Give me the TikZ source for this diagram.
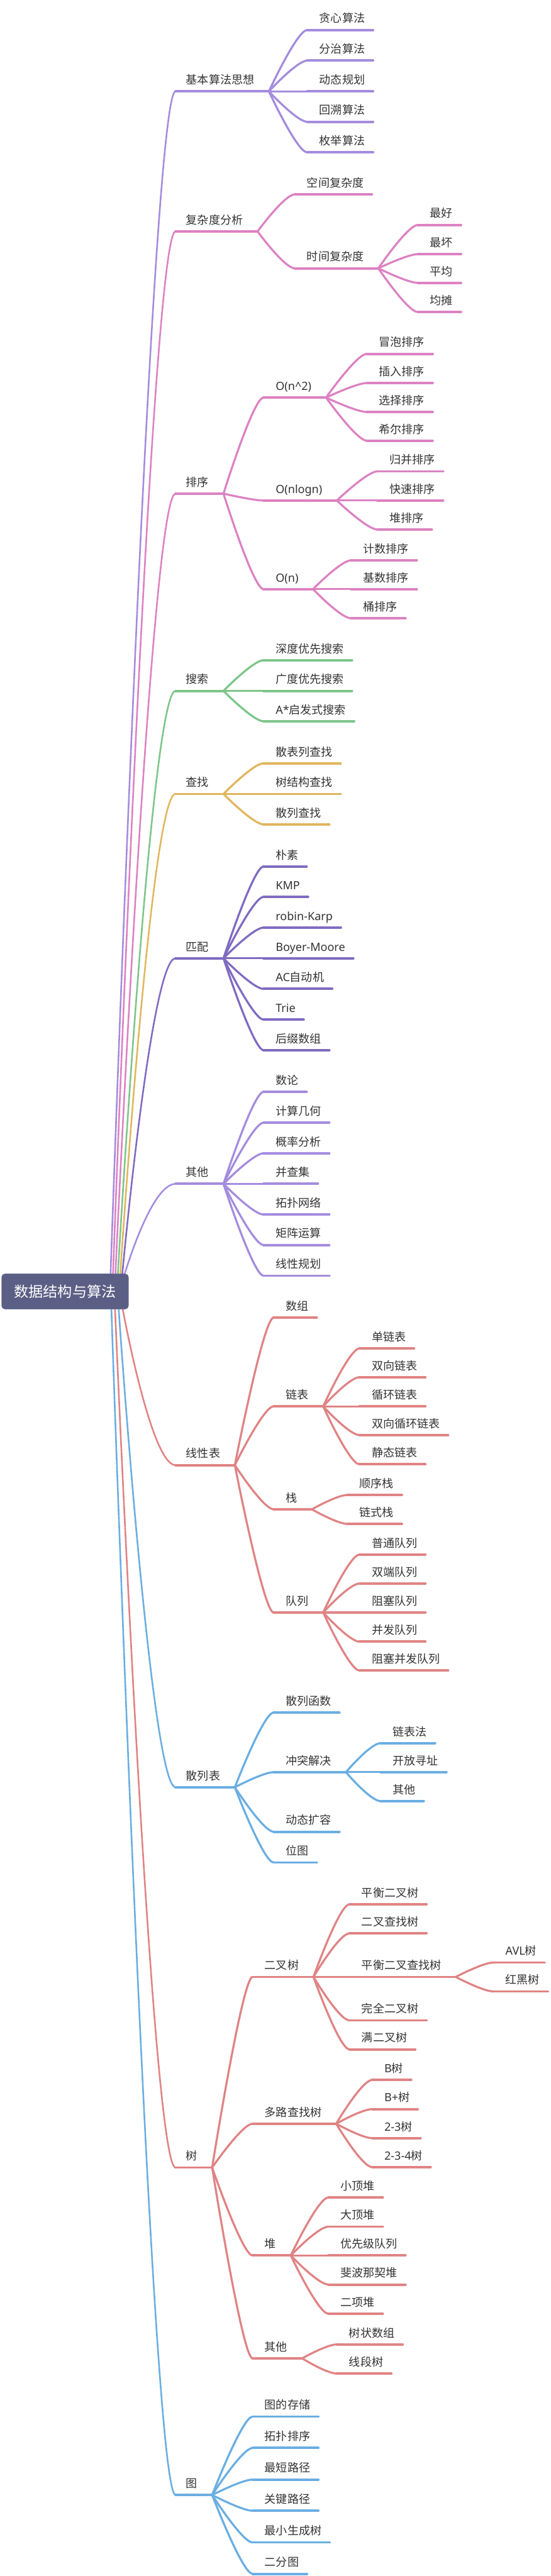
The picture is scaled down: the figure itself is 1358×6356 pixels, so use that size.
\documentclass[tikz,border=0pt]{standalone}
\usepackage{fontspec}
\newfontfamily\cjk{Noto Sans CJK SC}
\newfontfamily\lat{Noto Sans}
\definecolor{lpurple}{HTML}{A48CDE}
\definecolor{pinkc}{HTML}{DC82C2}
\definecolor{greenc}{HTML}{7DC58A}
\definecolor{goldc}{HTML}{E1B65E}
\definecolor{dpurple}{HTML}{7F6BC1}
\definecolor{salmon}{HTML}{E08384}
\definecolor{bluec}{HTML}{6AAEE2}
\definecolor{rootc}{HTML}{5B5F85}
\definecolor{tcol}{HTML}{333333}
\tikzset{
  txt/.style={font=\cjk\fontsize{28pt}{34pt}\selectfont, text=tcol, inner sep=0pt,
    text depth=18pt, text height=21pt, anchor=south west},
  ul/.style={line width=6pt, line cap=round},
  cn/.style={line width=5pt, line cap=round},
  cnone/.style={line width=4pt, line cap=round},
  rootbox/.style={fill=rootc, rounded corners=8pt, minimum width=313pt, minimum height=87pt,
    inner sep=0pt, text=white, font=\cjk\fontsize{36pt}{40pt}\selectfont}
}
% leaf: parent, name, xstart, y, text, color
\newcommand\Leaf[6]{%
  \node[txt] (#2) at ({#3+30},#4) {#5};
  \draw[ul,#6] ([xshift=-30pt]#2.south west) coordinate (#2-l) -- ([xshift=20pt]#2.south east) coordinate (#2-r);
  \draw[cn,#6] (#1-r) .. controls (#1-r) and ([xshift=-25pt]#2-l) .. (#2-l);}
% inner node with children
\newcommand\Mid[6]{%
  \node[txt] (#2) at ({#3+30},#4) {#5};
  \draw[ul,#6] ([xshift=-30pt]#2.south west) coordinate (#2-l) -- ([xshift=36pt]#2.south east) coordinate (#2-r);
  \draw[cn,#6] (#1-r) .. controls (#1-r) and ([xshift=-25pt]#2-l) .. (#2-l);}
% first level: start coordinate, name, y, text, color
\newcommand\Top[5]{%
  \node[txt] (#2) at (459,#3) {#4};
  \draw[ul,#5] ([xshift=-26pt]#2.south west) coordinate (#2-l) -- ([xshift=36pt]#2.south east) coordinate (#2-r);
  \draw[cnone,#5] (#1) .. controls (#1) and ([xshift=-60pt]#2-l) .. (#2-l);}
\begin{document}
\begin{tikzpicture}[x=1pt,y=-1pt]
\useasboundingbox (0,0) rectangle (1358,6356);
\fill[white] (0,0) rectangle (1358,6356);

\node[rootbox] (root) at (160.5,3186.5) {数据结构与算法};
\coordinate (s1) at ([xshift=269pt]root.north west);
\coordinate (s2) at ([xshift=275pt]root.north west);
\coordinate (s3) at ([xshift=281pt]root.north west);
\coordinate (s4) at ([xshift=287pt]root.north west);
\coordinate (s5) at ([xshift=293pt]root.north west);
\coordinate (s6) at ([xshift=298pt]root.north west);
\coordinate (s7) at ([xshift=304pt]root.north west);
\coordinate (t1) at ([xshift=299pt]root.south west);
\coordinate (t2) at ([xshift=289pt]root.south west);
\coordinate (t3) at ([xshift=280pt]root.south west);
\coordinate (t4) at ([xshift=271pt]root.south west);

% 基本算法思想
\Top{s1}{A}{225.5}{基本算法思想}{lpurple}
\Leaf{A}{a1}{758}{74}{贪心算法}{lpurple}
\Leaf{A}{a2}{758}{149.5}{分治算法}{lpurple}
\Leaf{A}{a3}{758}{225.5}{动态规划}{lpurple}
\Leaf{A}{a4}{758}{300.6}{回溯算法}{lpurple}
\Leaf{A}{a5}{758}{376}{枚举算法}{lpurple}

% 复杂度分析
\Top{s2}{B}{571}{复杂度分析}{pinkc}
\Leaf{B}{b1}{727}{479.7}{空间复杂度}{pinkc}
\Mid{B}{b2}{727}{662}{时间复杂度}{pinkc}
\Leaf{b2}{b21}{1031}{555}{最好}{pinkc}
\Leaf{b2}{b22}{1031}{627}{最坏}{pinkc}
\Leaf{b2}{b23}{1031}{698}{平均}{pinkc}
\Leaf{b2}{b24}{1031}{770}{均摊}{pinkc}

% 排序
\Top{s3}{C}{1218}{排序}{pinkc}
\Mid{C}{c1}{650}{981}{{\lat O(n\textasciicircum 2)}}{pinkc}
\Leaf{c1}{c11}{905}{873}{冒泡排序}{pinkc}
\Leaf{c1}{c12}{905}{945}{插入排序}{pinkc}
\Leaf{c1}{c13}{905}{1016.6}{选择排序}{pinkc}
\Leaf{c1}{c14}{905}{1087.5}{希尔排序}{pinkc}
\Mid{C}{c2}{650}{1235}{{\lat O(nlogn)}}{pinkc}
\Leaf{c2}{c21}{931}{1163}{归并排序}{pinkc}
\Leaf{c2}{c22}{931}{1235}{快速排序}{pinkc}
\Leaf{c2}{c23}{931}{1306.6}{堆排序}{pinkc}
\Mid{C}{c3}{650}{1453.6}{{\lat O(n)}}{pinkc}
\Leaf{c3}{c31}{866}{1382.7}{计数排序}{pinkc}
\Leaf{c3}{c32}{866}{1453.6}{基数排序}{pinkc}
\Leaf{c3}{c33}{866}{1525.6}{桶排序}{pinkc}

% 搜索
\Top{s4}{D}{1704.7}{搜索}{greenc}
\Leaf{D}{d1}{650}{1629}{深度优先搜索}{greenc}
\Leaf{D}{d2}{650}{1704.7}{广度优先搜索}{greenc}
\Leaf{D}{d3}{650}{1779.7}{{\lat A*}启发式搜索}{greenc}

% 查找
\Top{s5}{E}{1959}{查找}{goldc}
\Leaf{E}{e1}{650}{1883.4}{散表列查找}{goldc}
\Leaf{E}{e2}{650}{1959}{树结构查找}{goldc}
\Leaf{E}{e3}{650}{2034}{散列查找}{goldc}

% 匹配
\Top{s6}{F}{2364.5}{匹配}{dpurple}
\Leaf{F}{f1}{650}{2138}{朴素}{dpurple}
\Leaf{F}{f2}{650}{2213}{{\lat KMP}}{dpurple}
\Leaf{F}{f3}{650}{2288.7}{{\lat robin-Karp}}{dpurple}
\Leaf{F}{f4}{650}{2364.5}{{\lat Boyer-Moore}}{dpurple}
\Leaf{F}{f5}{650}{2440}{{\lat AC}自动机}{dpurple}
\Leaf{F}{f6}{650}{2515.7}{{\lat Trie}}{dpurple}
\Leaf{F}{f7}{650}{2591}{后缀数组}{dpurple}

% 其他
\Top{s7}{G}{2921}{其他}{lpurple}
\Leaf{G}{g1}{650}{2694}{数论}{lpurple}
\Leaf{G}{g2}{650}{2770}{计算几何}{lpurple}
\Leaf{G}{g3}{650}{2845.6}{概率分析}{lpurple}
\Leaf{G}{g4}{650}{2921}{并查集}{lpurple}
\Leaf{G}{g5}{650}{2996.8}{拓扑网络}{lpurple}
\Leaf{G}{g6}{650}{3072}{矩阵运算}{lpurple}
\Leaf{G}{g7}{650}{3147.6}{线性规划}{lpurple}

% 线性表
\Top{t1}{H}{3615}{线性表}{salmon}
\Leaf{H}{h1}{675}{3251}{数组}{salmon}
\Mid{H}{h2}{675}{3470}{链表}{salmon}
\Leaf{h2}{h21}{887}{3327}{单链表}{salmon}
\Leaf{h2}{h22}{887}{3398}{双向链表}{salmon}
\Leaf{h2}{h23}{887}{3470}{循环链表}{salmon}
\Leaf{h2}{h24}{887}{3541}{双向循环链表}{salmon}
\Leaf{h2}{h25}{887}{3613}{静态链表}{salmon}
\Mid{H}{h3}{675}{3724}{栈}{salmon}
\Leaf{h3}{h31}{857}{3688.6}{顺序栈}{salmon}
\Leaf{h3}{h32}{857}{3760}{链式栈}{salmon}
\Mid{H}{h4}{675}{3978.6}{队列}{salmon}
\Leaf{h4}{h41}{887}{3835.7}{普通队列}{salmon}
\Leaf{h4}{h42}{887}{3907}{双端队列}{salmon}
\Leaf{h4}{h43}{887}{3978.6}{阻塞队列}{salmon}
\Leaf{h4}{h44}{887}{4050.6}{并发队列}{salmon}
\Leaf{h4}{h45}{887}{4121.8}{阻塞并发队列}{salmon}

% 散列表
\Top{t2}{I}{4409.8}{散列表}{bluec}
\Leaf{I}{i1}{675}{4225.5}{散列函数}{bluec}
\Mid{I}{i2}{675}{4372.6}{冲突解决}{bluec}
\Leaf{i2}{i21}{939}{4301}{链表法}{bluec}
\Leaf{i2}{i22}{939}{4372.6}{开放寻址}{bluec}
\Leaf{i2}{i23}{939}{4444}{其他}{bluec}
\Leaf{I}{i3}{675}{4519.6}{动态扩容}{bluec}
\Leaf{I}{i4}{675}{4595.4}{位图}{bluec}

% 树
\Top{t3}{J}{5348}{树}{salmon}
\Mid{J}{j1}{623}{4877.8}{二叉树}{salmon}
\Leaf{j1}{j11}{862}{4698.7}{平衡二叉树}{salmon}
\Leaf{j1}{j12}{862}{4770.3}{二叉查找树}{salmon}
\Mid{j1}{j13}{862}{4877.8}{平衡二叉查找树}{salmon}
\Leaf{j13}{j131}{1217}{4842.3}{{\lat AVL}树}{salmon}
\Leaf{j13}{j132}{1217}{4913.6}{红黑树}{salmon}
\Leaf{j1}{j14}{862}{4985}{完全二叉树}{salmon}
\Leaf{j1}{j15}{862}{5056.5}{满二叉树}{salmon}
\Mid{J}{j2}{623}{5240}{多路查找树}{salmon}
\Leaf{j2}{j21}{918}{5132}{{\lat B}树}{salmon}
\Leaf{j2}{j22}{918}{5204}{{\lat B+}树}{salmon}
\Leaf{j2}{j23}{918}{5275.5}{{\lat 2-3}树}{salmon}
\Leaf{j2}{j24}{918}{5347}{{\lat 2-3-4}树}{salmon}
\Mid{J}{j3}{623}{5565}{堆}{salmon}
\Leaf{j3}{j31}{810}{5422}{小顶堆}{salmon}
\Leaf{j3}{j32}{810}{5494}{大顶堆}{salmon}
\Leaf{j3}{j33}{810}{5565}{优先级队列}{salmon}
\Leaf{j3}{j34}{810}{5636.8}{斐波那契堆}{salmon}
\Leaf{j3}{j35}{810}{5708.7}{二项堆}{salmon}
\Mid{J}{j4}{623}{5819}{其他}{salmon}
\Leaf{j4}{j41}{831}{5784.5}{树状数组}{salmon}
\Leaf{j4}{j42}{831}{5856.5}{线段树}{salmon}

% 图
\Top{t4}{K}{6156}{图}{bluec}
\Leaf{K}{k1}{623}{5962.6}{图的存储}{bluec}
\Leaf{K}{k2}{623}{6040}{拓扑排序}{bluec}
\Leaf{K}{k3}{623}{6118}{最短路径}{bluec}
\Leaf{K}{k4}{623}{6195}{关键路径}{bluec}
\Leaf{K}{k5}{623}{6273}{最小生成树}{bluec}
\Leaf{K}{k6}{623}{6350.6}{二分图}{bluec}

\node[rootbox] at (root) {数据结构与算法};
\end{tikzpicture}
\end{document}
